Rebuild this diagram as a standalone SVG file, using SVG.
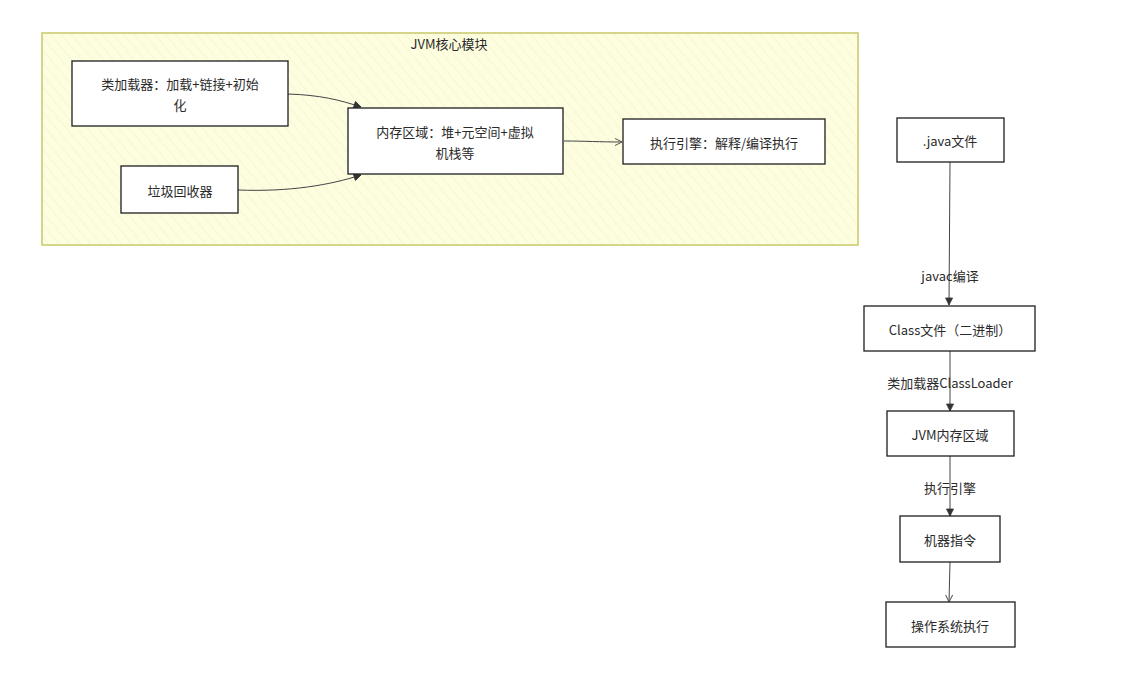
<svg xmlns="http://www.w3.org/2000/svg" width="1133" height="697" viewBox="0 0 1133 697">
<style>
  .t { font-family: "Noto Sans CJK SC", "Noto Sans", sans-serif; font-size: 13px; fill: #2a2a2a; text-anchor: middle; dominant-baseline: central; }
  .box { fill: #ffffff; stroke: #1e1e1e; stroke-width: 1.3; }
  .edge { fill: none; stroke: #444; stroke-width: 1; }
</style>
<defs>
  <pattern id="hatch" width="8" height="8" patternUnits="userSpaceOnUse" patternTransform="rotate(-40)">
    <rect width="8" height="8" fill="#fdfde0"/>
    <line x1="0" y1="0" x2="0" y2="8" stroke="#f3f3c8" stroke-width="1.2"/>
  </pattern>
  <marker id="arr" markerWidth="10" markerHeight="10" refX="8" refY="5" orient="auto" markerUnits="userSpaceOnUse">
    <path d="M1,1.5 L8,5 L1,8.5 Z" fill="#333" stroke="#333" stroke-width="0.8"/>
  </marker>
  <marker id="arrOpen" markerWidth="10" markerHeight="10" refX="8" refY="5" orient="auto" markerUnits="userSpaceOnUse">
    <path d="M1,1.5 L8,5 L1,8.5" fill="none" stroke="#555" stroke-width="1"/>
  </marker>
</defs>
<rect width="1133" height="697" fill="#ffffff"/>

<g id="container">
  <rect x="42" y="33" width="816" height="212" fill="url(#hatch)" stroke="#c8c86a" stroke-width="1.5"/>
  <text class="t" x="449" y="43">JVM核心模块</text>
</g>

<g id="connectors">
  <path class="edge" d="M288,94 C320,95 340,100 361,107" marker-end="url(#arr)"/>
  <path class="edge" d="M238,190 C290,192 330,185 361,175" marker-end="url(#arr)"/>
  <path class="edge" d="M564,141 C585,141 600,142 622,142" marker-end="url(#arrOpen)"/>
  <path class="edge" d="M950,162 L949,305" marker-end="url(#arr)"/>
  <path class="edge" d="M950,351 L950,411" marker-end="url(#arr)"/>
  <path class="edge" d="M950,456 L950,516" marker-end="url(#arr)"/>
  <path class="edge" d="M950,562 L949,602" marker-end="url(#arrOpen)"/>
</g>
<g id="edge-labels">
  <text class="t" x="950" y="275">javac编译</text>
  <text class="t" x="950" y="382">类加载器ClassLoader</text>
  <text class="t" x="950" y="487">执行引擎</text>
</g>

<g id="classloader">
  <rect class="box" x="72" y="61" width="216" height="65"/>
  <text class="t" x="180" y="83">类加载器：加载+链接+初始</text>
  <text class="t" x="180" y="104">化</text>
</g>
<g id="memory">
  <rect class="box" x="348" y="108" width="215" height="66"/>
  <text class="t" x="455" y="131">内存区域：堆+元空间+虚拟</text>
  <text class="t" x="455" y="152">机栈等</text>
</g>
<g id="engine">
  <rect class="box" x="623" y="119" width="202" height="45"/>
  <text class="t" x="724" y="142">执行引擎：解释/编译执行</text>
</g>
<g id="gc">
  <rect class="box" x="121" y="166" width="117" height="47"/>
  <text class="t" x="180" y="190">垃圾回收器</text>
</g>

<g id="java-file">
  <rect class="box" x="897" y="118" width="107" height="44"/>
  <text class="t" x="950" y="140">.java文件</text>
</g>
<g id="class-file">
  <rect class="box" x="864" y="306" width="171" height="45"/>
  <text class="t" x="950" y="329">Class文件（二进制）</text>
</g>
<g id="jvm-memory">
  <rect class="box" x="887" y="411" width="127" height="45"/>
  <text class="t" x="950" y="434">JVM内存区域</text>
</g>
<g id="machine-code">
  <rect class="box" x="900" y="516" width="100" height="46"/>
  <text class="t" x="950" y="539">机器指令</text>
</g>
<g id="os-exec">
  <rect class="box" x="886" y="602" width="129" height="45"/>
  <text class="t" x="950" y="625">操作系统执行</text>
</g>
</svg>
